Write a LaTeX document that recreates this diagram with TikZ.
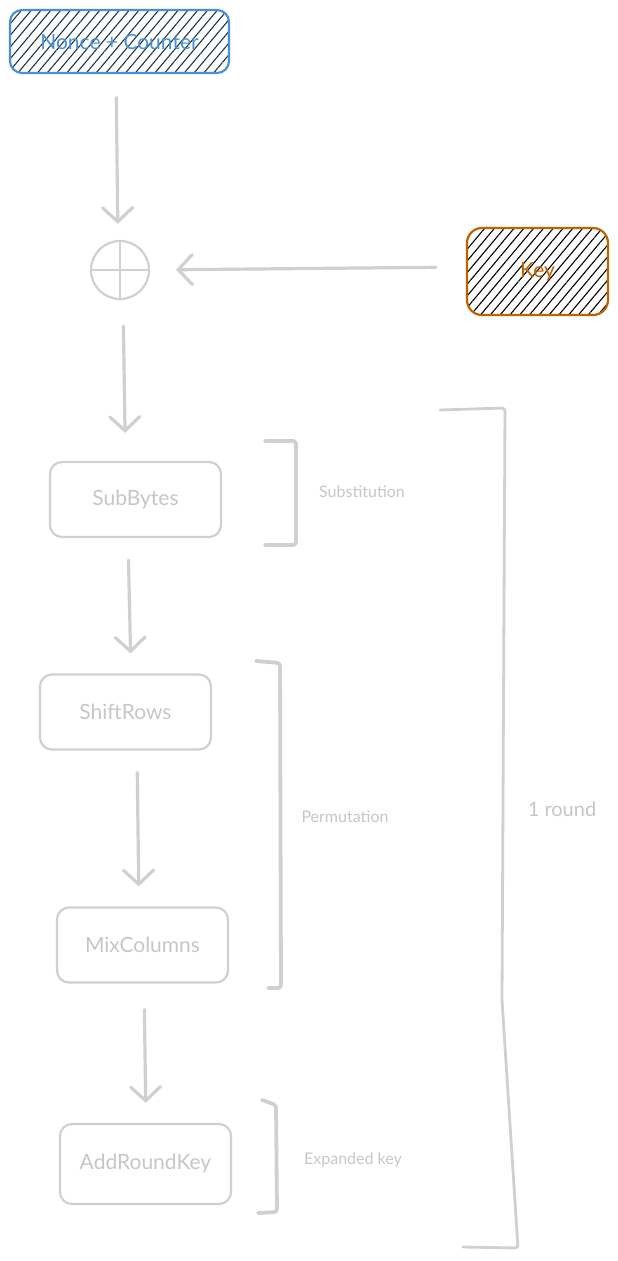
\documentclass[tikz,border=0pt]{standalone}
\usepackage{fontspec}
\setmainfont{Lato}
\usetikzlibrary{calc}
\usetikzlibrary{arrows.meta}
\usetikzlibrary{patterns.meta}
\definecolor{sketchgray}{HTML}{D0D0D0}
\definecolor{labelgray}{HTML}{C6C6C6}
\definecolor{nonceblue}{HTML}{4A90D9}
\definecolor{keyorange}{HTML}{C06200}
\definecolor{hatchnavy}{HTML}{1E3448}
\tikzset{
  stepbox/.style={draw=sketchgray, line width=2.2pt, rounded corners=12pt,
    minimum width=171pt, minimum height=75pt, text=labelgray,
    font=\fontsize{21}{24}\selectfont},
  inputbox/.style={line width=2.2pt, rounded corners=12pt,
    font=\fontsize{21}{24}\selectfont},
  flow/.style={draw=sketchgray, line width=3.2pt, line cap=round,
    -{Straight Barb[length=14pt,width=30pt,line cap=round]},
    shorten <=22pt, shorten >=20pt},
  bracket/.style={draw=sketchgray, line width=3.8pt, line cap=round,
    line join=round, rounded corners=3pt},
  bracketlabel/.style={text=labelgray, font=\fontsize{16}{18}\selectfont}
}
\begin{document}
\begin{tikzpicture}[x=1pt, y=-1pt]
\useasboundingbox (0,0) rectangle (618,1261);

% inputs
\node [inputbox, draw=nonceblue, text=nonceblue,
  pattern={Lines[angle=50,distance=7.5pt,line width=1.1pt]}, pattern color=hatchnavy,
  minimum width=219pt, minimum height=63pt] (nonce) at (119.5,41.5) {Nonce + Counter};
\node [inputbox, draw=keyorange, text=keyorange, rounded corners=15pt,
  pattern={Lines[angle=50,distance=7.5pt,line width=1.1pt]}, pattern color=black,
  minimum width=141pt, minimum height=87pt] (key) at (537.5,271.5) {Key};

% xor
\node [circle, draw=sketchgray, line width=2.2pt, minimum size=58pt, inner sep=0pt] (xor) at (120,270) {};
\draw [sketchgray, line width=2.2pt] (xor.north) -- (xor.south);
\draw [sketchgray, line width=2.2pt] (xor.west) -- (xor.east);

% round steps
\node [stepbox] (sub) at (135.5,499.5) {SubBytes};
\node [stepbox] (shift) at (125.5,712) {ShiftRows};
\node [stepbox] (mix) at (142.5,945) {MixColumns};
\node [stepbox, minimum height=80pt] (ark) at (145.5,1164) {AddRoundKey};

\draw [flow, shorten <=24pt, shorten >=16pt] ($(nonce.south)+(-3.5,0)$) -- ($(xor.north)+(-2,0)$);
\draw [flow, shorten <=30pt, shorten >=26pt] ($(key.west)+(0,-4.5)$) -- (xor.east);
\draw [flow, shorten <=26pt, shorten >=28pt] ($(xor.south)+(3,0)$) -- ($(sub.north)+(-10,0)$);
\draw [flow] ($(sub.south)+(-7.5,0)$) -- ($(shift.north)+(5.5,0)$);
\draw [flow] ($(shift.south)+(11.5,0)$) -- ($(mix.north)+(-3.5,0)$);
\draw [flow, shorten <=26pt] ($(mix.south)+(1.5,0)$) -- ($(ark.north)+(0.5,0)$);

% brackets
\draw [bracket] (265,441) -- (296,441) -- (296,545) -- (265,545);
\draw [bracket] (256,661) -- (280,663) -- (281,988) -- (268,988);
\draw [bracket] (262,1100) -- (276,1105) -- (277,1212) -- (258,1213);
\draw [bracket, line width=2.8pt] (440,410) -- (505,408) -- (502,1000) -- (518,1248) -- (463,1247);

\node [bracketlabel] (substlabel) at (362,492) {Substitution};
\node [bracketlabel] (permlabel) at (345,817) {Permutation};
\node [bracketlabel] (explabel) at (353,1160) {Expanded key};
\node [bracketlabel, font=\fontsize{20}{23}\selectfont] (roundlabel) at (562,809) {1 round};

\end{tikzpicture}
\end{document}
